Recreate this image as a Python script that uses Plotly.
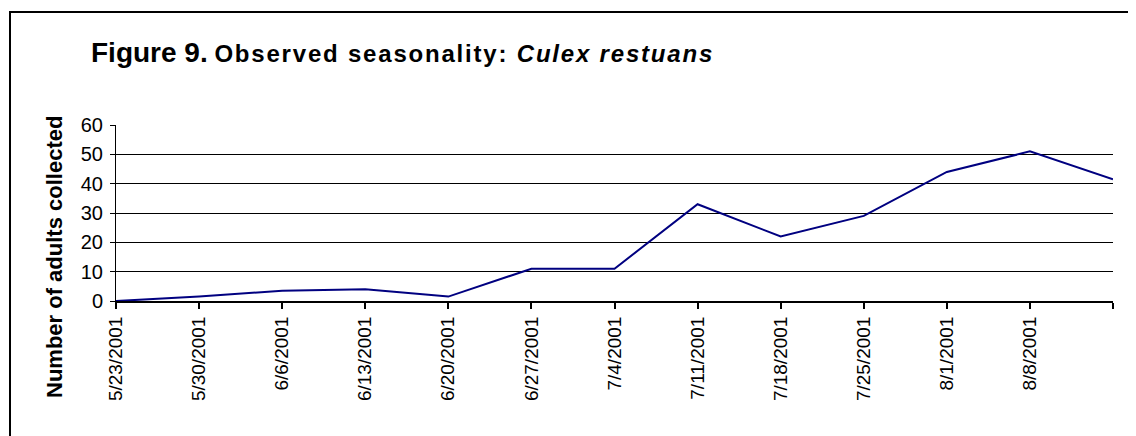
import plotly.graph_objects as go

dates = ["5/23/2001", "5/30/2001", "6/6/2001", "6/13/2001", "6/20/2001", "6/27/2001",
         "7/4/2001", "7/11/2001", "7/18/2001", "7/25/2001", "8/1/2001", "8/8/2001", ""]
adults = [0, 1.5, 3.5, 4, 1.5, 11, 11, 33, 22, 29, 44, 51, 41.5]
y_ticks = [0, 10, 20, 30, 40, 50, 60]

OFF = 8  # page body margin
W, H = 1136 - OFF, 436 - OFF
L, R, T, B = 116 - OFF, 1113 - OFF, 125 - OFF, 301 - OFF  # plot area in pixels


def px(x):
    return (x - OFF - L) / (R - L)


def py(y):
    return (B - (y - OFF)) / (B - T)


xs = list(range(len(dates)))

fig = go.Figure()
fig.add_trace(go.Scatter(x=xs, y=adults, mode="lines",
                         line=dict(color="#000080", width=2), hoverinfo="skip"))

FONT = "Liberation Sans, Arial, sans-serif"

fig.update_layout(
    width=W, height=H,
    margin=dict(l=L, r=W - R, t=T, b=H - B, pad=0),
    paper_bgcolor="white", plot_bgcolor="white",
    showlegend=False,
    font=dict(family=FONT, color="black"),
    xaxis=dict(range=[0, len(dates) - 1], tickmode="array", tickvals=xs, ticktext=dates,
               tickangle=-90, tickfont=dict(size=19, family=FONT),
               showgrid=False, zeroline=False, showline=True, linecolor="black", linewidth=2,
               ticks="outside", ticklen=6, tickwidth=2, tickcolor="black", fixedrange=True),
    yaxis=dict(range=[0, 60], tickmode="array", tickvals=y_ticks,
               tickfont=dict(size=20, family=FONT), ticklabelstandoff=3,
               showgrid=True, gridcolor="black", gridwidth=1, zeroline=False,
               showline=True, linecolor="black", linewidth=1,
               ticks="outside", ticklen=5, tickcolor="black", fixedrange=True),
    shapes=[dict(type="rect", xref="paper", yref="paper",
                 x0=px(10), x1=px(1146), y0=py(12), y1=py(446),
                 line=dict(color="black", width=2), fillcolor="rgba(0,0,0,0)", layer="above")],
    annotations=[
        dict(xref="paper", yref="paper", x=px(89), y=py(53), xanchor="left", yanchor="middle",
             showarrow=False,
             text="<b><span style='font-size:28px'>Figure 9.</span> "
                  "<span style='letter-spacing:1.8px'>Observed seasonality: <i>Culex restuans</i></span></b>",
             font=dict(size=24, family=FONT, color="black")),
        dict(xref="paper", yref="paper", x=px(54), y=py(257), xanchor="center", yanchor="middle",
             showarrow=False, textangle=-90,
             text="<b>Number of adults collected</b>",
             font=dict(size=22, family=FONT, color="black")),
    ],
)

fig.write_html("out.html")
